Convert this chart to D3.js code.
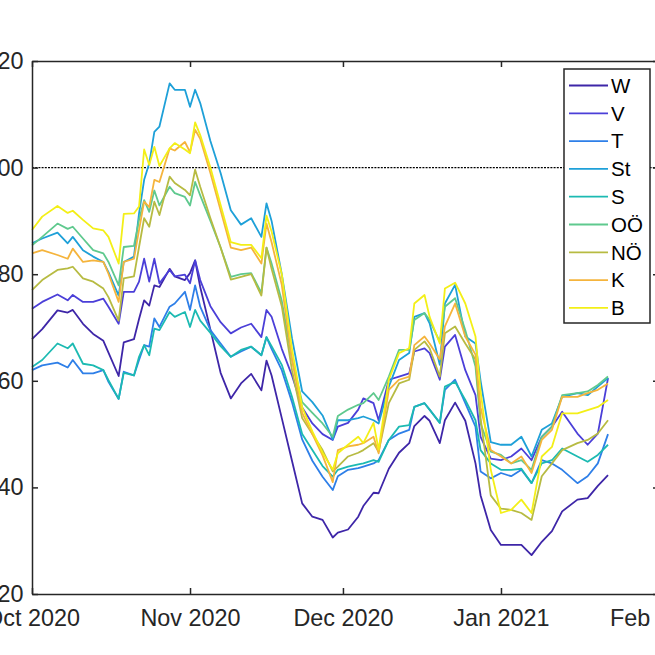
<!DOCTYPE html>
<html>
<head>
<meta charset="utf-8">
<script src="https://cdn.jsdelivr.net/npm/d3@7"></script>
<style>
  body { margin: 0; background: #fff; }
  svg { display: block; font-family: "Liberation Sans", Arial, Helvetica, sans-serif; }
  .axis path, .axis line { stroke: #262626; stroke-width: 1.5; }
  .axis text { fill: #262626; font-size: 23.4px; }
  .legend text { fill: #000; font-size: 20.5px; }
</style>
</head>
<body>
<div id="wrapper"></div>
<script>
// 1. Data (days counted from 1 Oct 2020)

const startDate = new Date(2020, 9, 1);
const dayOffsets = [0, 2, 5, 7, 8, 10, 12, 14, 15, 17, 18, 20, 21, 22, 23, 24, 25, 27, 28, 30,
  31, 32, 33, 35, 37, 39, 41, 43, 45, 46, 47, 49, 51, 53, 55, 57, 59, 60, 62, 64,
  65, 67, 68, 70, 72, 74, 75, 77, 78, 80, 81, 83, 85, 87, 88, 90, 92, 94, 96, 98,
  100, 102, 104, 107, 109, 111, 113];

const regionNames = ['W', 'V', 'T', 'St', 'S', 'OÖ', 'NÖ', 'K', 'B'];
const regionColors = ['#3e26a8', '#4b3fd8', '#2e7fe8', '#1ea0d8', '#1cbab2',
  '#5fc98e', '#b7bb42', '#f5b43c', '#f3ef17'];

const valuesW = [67.8, 69.7, 73.2, 72.8, 73.3, 70.7, 68.8, 67.5, 65.3, 60.9, 67.2, 67.8, 71.6, 75.1, 74.1,
  77.9, 77.6, 81.0, 79.6, 78.9, 80.2, 82.6, 77.6, 69.6, 61.5, 56.7, 59.5, 61.3, 58.2, 63.8,
  61, 53, 45, 37, 34.5, 33.9, 30.6, 31.5, 32.1, 34.5, 36.5, 39, 38.9, 43.5, 46.5,
  48.3, 51.5, 53.4, 52.5, 48.3, 52.6, 55.9, 52.5, 44.5, 38.5, 32, 29.2, 29.2, 29.2, 27.3,
  29.8, 31.8, 35.5, 37.7, 38, 40.3, 42.3];
const valuesV = [73.5, 74.8, 76.2, 75.1, 76.1, 74.8, 74.8, 75.4, 73.9, 70.7, 76.7, 76.7, 78.6, 82.9, 78.6,
  82.9, 78.3, 80.8, 79.6, 79.9, 78.3, 82.6, 78.9, 74, 71, 68.9, 70, 70.7, 68.2, 73.3,
  72, 66, 61, 55, 52, 50, 48.9, 51.4, 52.1, 54.6, 56.7, 55.8, 52.6, 60.2, 60.8,
  61.4, 65.5, 66.1, 65.2, 60.2, 66.4, 68.6, 62, 57.3, 49.5, 45.4, 45.1, 45.8, 47.3, 45.1,
  49.5, 51.4, 54.2, 50.1, 48, 50.1, 60.5];
const valuesT = [62.0, 62.9, 63.4, 62.5, 63.9, 61.4, 61.4, 62.0, 59.8, 56.6, 61.7, 61.0, 63.9, 66.7, 66.4,
  71.7, 70.1, 73.9, 74.5, 76.7, 73.3, 77.9, 73.9, 69.5, 67, 64.5, 65.5, 66.4, 64.8, 68.2,
  66, 62, 56, 49, 45, 42, 39.5, 42.1, 43.3, 43.6, 43.9, 44.5, 45.1, 48.9, 50.1,
  50.8, 55.1, 55.8, 54.6, 52.1, 58.3, 60.2, 55.8, 51.4, 43, 41.7, 42.7, 42.1, 43.3, 40.8,
  45.1, 44.5, 43.3, 40.8, 42.1, 44.5, 50];
const valuesSt = [85.8, 86.7, 87.8, 85.8, 87.0, 84.5, 83.3, 82.3, 80.4, 76.0, 82.3, 83.3, 91.4, 97.7, 100.8,
  106.7, 107.7, 115.8, 114.6, 114.6, 111.4, 114.6, 112.1, 105, 99, 92, 89.3, 90.5, 87, 93.3,
  90, 80, 68, 58, 56, 53.5, 49, 52.6, 52.6, 53, 53.3, 52.6, 52, 58.9, 63.9,
  65.2, 72, 72.7, 70.8, 63, 74.5, 78, 68.3, 67, 60, 48.5, 48, 48, 49.5, 45.8,
  50.8, 52, 57, 57.7, 57.3, 58.9, 60.5];
const valuesS = [62.6, 63.9, 67.0, 66.1, 67.0, 63.2, 62.9, 62.0, 60.1, 56.6, 61.5, 61.0, 64.5, 66.7, 64.8,
  69.8, 69.5, 72.9, 72.0, 72.9, 70.1, 73.3, 71.3, 69, 66.5, 64.5, 65.8, 66.4, 64.8, 68.2,
  66.5, 63, 57, 50, 47, 44, 42, 43.3, 43.9, 44.3, 44.5, 45.1, 44.8, 48.9, 51.4,
  51.7, 55.1, 55.8, 54.6, 52.1, 58.9, 59.8, 56.4, 52.6, 47, 44.5, 43.3, 43.3, 43.5, 40.8,
  44.5, 45.1, 47.3, 45.8, 44.8, 46.1, 48];
const valuesOOe = [85.4, 87.0, 89.5, 88.5, 88.9, 86.7, 84.5, 83.9, 82.3, 77.9, 85.1, 85.3, 90.2, 93.9, 91.7,
  95.7, 92.9, 96.4, 95.2, 94.5, 92.9, 97.3, 94.8, 90, 85, 79.5, 80, 80.2, 76.5, 85,
  82, 75, 64, 56, 54, 52, 49.5, 53.4, 54.6, 55.5, 55.8, 57.7, 56.4, 60.8, 65.8,
  65.8, 71.4, 72.7, 71.4, 67.3, 73.9, 75.5, 69.5, 62.7, 52, 46.7, 46.1, 44.5, 45.1, 43.3,
  49.5, 51.4, 57.3, 57.7, 58, 59.2, 60.8];
const valuesNOe = [77.0, 78.9, 80.8, 81.1, 81.4, 79.2, 78.6, 77.3, 75.7, 71.3, 79.2, 79.6, 85.1, 90.5, 88.9,
  93.6, 91.1, 98.3, 97.1, 95.8, 94.8, 99.6, 96.4, 90.5, 85, 79, 79.5, 80, 76, 85,
  81, 74, 62, 53, 50, 47, 43, 43.9, 45.8, 46.5, 47, 48.3, 46.7, 55.8, 59.5,
  60.2, 65.8, 67.4, 66.1, 60.8, 68.9, 70.2, 67, 64, 53, 38.5, 36, 35.8, 35.2, 33.9,
  42.1, 44.5, 47, 48.3, 48.9, 50.1, 52.6];
const valuesK = [83.9, 84.5, 83.6, 82.9, 84.8, 82.3, 82.6, 82.3, 80.1, 74.8, 82.3, 82.9, 88.3, 93.6, 92.6,
  97.7, 97.3, 103.6, 103.2, 104.8, 102.9, 107.1, 105.4, 99, 92, 85, 84.5, 85, 82, 89.5,
  86, 78, 64, 54, 50, 46, 41, 47, 47.7, 48, 48.3, 49.5, 46.4, 58.3, 60.2,
  60.8, 66.7, 68.3, 67, 64, 70.2, 74.5, 68.3, 64.9, 55, 47, 45.8, 44.5, 45.8, 42.7,
  48.9, 50.8, 57, 57, 57.7, 58.3, 59.5];
const valuesB = [88.3, 90.8, 92.8, 91.5, 91.9, 90.2, 88.6, 88.2, 87, 82.0, 91.3, 91.4, 92.7, 103.4, 100.5,
  103.9, 100.3, 103.6, 104.6, 103.4, 102.7, 108.5, 106.1, 100, 93, 86, 85.5, 85.5, 83, 91,
  88, 80, 66, 55, 50.5, 46.5, 43.3, 46.4, 48, 49.5, 48.3, 52.1, 47.1, 60.2, 65.2,
  66.1, 74.5, 76.1, 72, 67, 77.3, 78.4, 74.5, 68.3, 58, 43.3, 35.2, 35.8, 37.7, 35.2,
  45.8, 47.6, 53.9, 53.9, 54.5, 55.1, 56.4];

const allValues = [valuesW, valuesV, valuesT, valuesSt, valuesS, valuesOOe, valuesNOe, valuesK, valuesB];

const xTickDates = ['2020-10-01', '2020-11-01', '2020-12-01', '2021-01-01', '2021-02-01'];
const yTickValues = [20, 40, 60, 80, 100, 120];
const referenceLevel = 100;

// 2. Dimensions

const dimensions = {
  width: 655,
  height: 655,
  margin: { top: 61, left: 32, bottom: 61, right: -4 },
};
dimensions.boundedWidth = dimensions.width - dimensions.margin.left - dimensions.margin.right;
dimensions.boundedHeight = dimensions.height - dimensions.margin.top - dimensions.margin.bottom;

// 3. Canvas

const wrapper = d3.select('#wrapper')
  .append('svg')
  .attr('width', dimensions.width)
  .attr('height', dimensions.height);

const bounds = wrapper.append('g')
  .attr('transform', `translate(${dimensions.margin.left},${dimensions.margin.top})`);

// 4. Scales

const parseDay = d3.timeParse('%Y-%m-%d');
const dayToDate = (n) => d3.timeDay.offset(startDate, n);

const xScale = d3.scaleTime()
  .domain([parseDay('2020-10-01'), parseDay('2021-02-01')])
  .range([0, dimensions.boundedWidth]);

const yScale = d3.scaleLinear()
  .domain([20, 120])
  .range([dimensions.boundedHeight, 0]);

// 5. Data lines

const seriesData = regionNames.map((name, i) => ({
  name,
  color: regionColors[i],
  points: dayOffsets.map((n, j) => ({ date: dayToDate(n), value: allValues[i][j] })),
}));

const lineGenerator = d3.line()
  .x((d) => xScale(d.date))
  .y((d) => yScale(d.value));

bounds.append('line')
  .attr('x1', 0)
  .attr('x2', dimensions.boundedWidth)
  .attr('y1', yScale(referenceLevel))
  .attr('y2', yScale(referenceLevel))
  .attr('stroke', '#000')
  .attr('stroke-width', 1.4)
  .attr('stroke-dasharray', '2,1.2');

bounds.selectAll('.series')
  .data(seriesData)
  .join('path')
  .attr('class', 'series')
  .attr('fill', 'none')
  .attr('stroke', (d) => d.color)
  .attr('stroke-width', 1.8)
  .attr('stroke-linejoin', 'round')
  .attr('d', (d) => lineGenerator(d.points));

// 6. Axes (box with inward ticks)

const xTicks = xTickDates.map(parseDay);

bounds.append('g')
  .attr('class', 'axis')
  .attr('transform', `translate(0,${dimensions.boundedHeight})`)
  .call(d3.axisBottom(xScale).tickValues(xTicks).tickFormat(d3.timeFormat('%b %Y'))
    .tickSizeInner(-6).tickSizeOuter(0).tickPadding(15));

bounds.append('g')
  .attr('class', 'axis')
  .call(d3.axisTop(xScale).tickValues(xTicks).tickFormat('')
    .tickSizeInner(-6).tickSizeOuter(0));

bounds.append('g')
  .attr('class', 'axis')
  .call(d3.axisLeft(yScale).tickValues(yTickValues)
    .tickSizeInner(-6).tickSizeOuter(0).tickPadding(8.5));

bounds.append('g')
  .attr('class', 'axis')
  .attr('transform', `translate(${dimensions.boundedWidth},0)`)
  .call(d3.axisRight(yScale).tickValues(yTickValues).tickFormat('')
    .tickSizeInner(-6).tickSizeOuter(0));

// 7. Legend

const legend = wrapper.append('g')
  .attr('class', 'legend')
  .attr('transform', 'translate(564,69)');

legend.append('rect')
  .attr('width', 86)
  .attr('height', 254)
  .attr('fill', '#fff')
  .attr('stroke', '#262626')
  .attr('stroke-width', 1.5);

const entries = legend.selectAll('.entry')
  .data(seriesData)
  .join('g')
  .attr('class', 'entry')
  .attr('transform', (d, i) => `translate(0,${16.5 + i * 27.8})`);

entries.append('line')
  .attr('x1', 5)
  .attr('x2', 44)
  .attr('stroke', (d) => d.color)
  .attr('stroke-width', 1.8);

entries.append('text')
  .attr('x', 47)
  .attr('dy', '0.36em')
  .text((d) => d.name);
</script>
</body>
</html>
